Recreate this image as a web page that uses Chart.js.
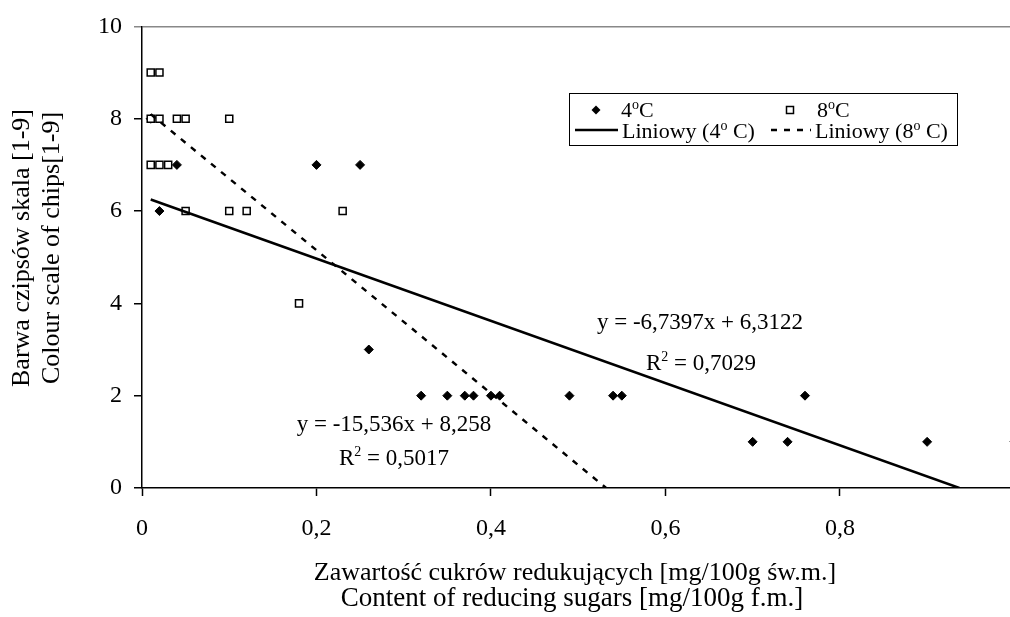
<!DOCTYPE html>
<html>
<head>
<meta charset="utf-8">
<script src="https://cdn.jsdelivr.net/npm/chart.js@4.4.0/dist/chart.umd.min.js"></script>
<style>
  html, body { margin: 0; padding: 0; background: #fff; overflow: hidden; }
  #scatterChart { display: block; }
</style>
</head>
<body>
<canvas id="scatterChart" width="1010" height="617"></canvas>
<script>
const FONT = '"Liberation Serif", "Times New Roman", serif';

// 4 oC
const x4 = [0.01, 0.02, 0.04, 0.20, 0.25, 0.26, 0.32, 0.35, 0.37, 0.38, 0.40, 0.41, 0.49, 0.54, 0.55, 0.70, 0.74, 0.76, 0.90, 1.00];
const y4 = [8, 6, 7, 7, 7, 3, 2, 2, 2, 2, 2, 2, 2, 2, 2, 1, 1, 2, 1, 1];
// 8 oC
const x8 = [0.01, 0.02, 0.01, 0.02, 0.04, 0.05, 0.10, 0.01, 0.02, 0.03, 0.05, 0.10, 0.12, 0.23, 0.18];
const y8 = [9, 9, 8, 8, 8, 8, 8, 7, 7, 7, 6, 6, 6, 6, 4];
// linie trendu (końce)
const trend4X = [0.01, 0.937];
const trend4Y = [6.25, 0];
const trend8X = [0.01, 0.532];
const trend8Y = [8.10, 0];

const xTicks = [0, 0.2, 0.4, 0.6, 0.8];
const yTicks = [0, 2, 4, 6, 8, 10];

const eq4 = ["y = -6,7397x + 6,3122", "0,7029"];
const eq8 = ["y = -15,536x + 8,258", "0,5017"];
const yTitle = ["Barwa czipsów skala [1-9]", "Colour scale of chips[1-9]"];
const xTitle = ["Zawartość cukrów redukujących [mg/100g św.m.]", "Content of reducing sugars [mg/100g f.m.]"];

const toPoints = (xs, ys) => xs.map((x, i) => ({ x: x, y: ys[i] }));

// tekst z indeksem górnym: parts = [[tekst, czySup], ...]
function drawRich(ctx, parts, x, y, size, align) {
  const supSize = Math.round(size * 0.62);
  let total = 0;
  parts.forEach(([t, sup]) => {
    ctx.font = (sup ? supSize : size) + "px " + FONT;
    total += ctx.measureText(t).width;
  });
  let cx = align === "center" ? x - total / 2 : x;
  ctx.textAlign = "left";
  ctx.textBaseline = "alphabetic";
  parts.forEach(([t, sup]) => {
    ctx.font = (sup ? supSize : size) + "px " + FONT;
    ctx.fillText(t, cx, sup ? y - size * 0.38 : y);
    cx += ctx.measureText(t).width;
  });
}

const overlayPlugin = {
  id: "overlay",
  afterDraw(chart) {
    const ctx = chart.ctx;
    ctx.save();
    ctx.fillStyle = "#000";
    ctx.strokeStyle = "#000";

    // tytuł osi Y
    ctx.save();
    ctx.translate(0, 248);
    ctx.rotate(-Math.PI / 2);
    ctx.font = "26px " + FONT;
    ctx.textAlign = "center";
    ctx.textBaseline = "middle";
    ctx.fillText(yTitle[0], 0, 22);
    ctx.fillText(yTitle[1], 0, 52);
    ctx.restore();

    // tytuł osi X
    ctx.textAlign = "center";
    ctx.textBaseline = "alphabetic";
    ctx.font = "26px " + FONT;
    ctx.fillText(xTitle[0], 575, 580);
    ctx.font = "27px " + FONT;
    ctx.fillText(xTitle[1], 572, 606);

    // równania
    drawRich(ctx, [[eq4[0], false]], 700, 329, 23, "center");
    drawRich(ctx, [["R", false], ["2", true], [" = " + eq4[1], false]], 701, 370, 23, "center");
    drawRich(ctx, [[eq8[0], false]], 394, 431, 23, "center");
    drawRich(ctx, [["R", false], ["2", true], [" = " + eq8[1], false]], 394, 465, 23, "center");

    // legenda
    ctx.lineWidth = 1;
    ctx.strokeRect(569.5, 93.5, 388, 52);

    ctx.beginPath();
    ctx.moveTo(596, 105.5); ctx.lineTo(600.5, 110); ctx.lineTo(596, 114.5); ctx.lineTo(591.5, 110);
    ctx.closePath();
    ctx.fill();
    drawRich(ctx, [["4", false], ["o", true], ["C", false]], 621, 117, 22, "left");

    ctx.fillStyle = "#fff";
    ctx.lineWidth = 1.5;
    ctx.fillRect(786.5, 106.5, 7, 7);
    ctx.strokeRect(786.5, 106.5, 7, 7);
    ctx.fillStyle = "#000";
    drawRich(ctx, [["8", false], ["o", true], ["C", false]], 817, 117, 22, "left");

    ctx.lineWidth = 2.5;
    ctx.beginPath();
    ctx.moveTo(575, 130); ctx.lineTo(618, 130);
    ctx.stroke();
    drawRich(ctx, [["Liniowy (4", false], ["o", true], [" C)", false]], 622, 138, 22, "left");

    ctx.setLineDash([6, 7]);
    ctx.beginPath();
    ctx.moveTo(771, 130); ctx.lineTo(811, 130);
    ctx.stroke();
    ctx.setLineDash([]);
    drawRich(ctx, [["Liniowy (8", false], ["o", true], [" C)", false]], 815, 138, 22, "left");

    ctx.restore();
  }
};

const ctx = document.getElementById("scatterChart").getContext("2d");

new Chart(ctx, {
  type: "scatter",
  data: {
    datasets: [
      {
        label: "Liniowy (4o C)",
        data: toPoints(trend4X, trend4Y),
        showLine: true,
        borderColor: "#000",
        borderWidth: 2.5,
        pointRadius: 0,
      },
      {
        label: "Liniowy (8o C)",
        data: toPoints(trend8X, trend8Y),
        showLine: true,
        borderColor: "#000",
        borderWidth: 2.5,
        borderDash: [6, 7],
        pointRadius: 0,
      },
      {
        label: "8oC",
        data: toPoints(x8, y8),
        pointStyle: "rect",
        pointRadius: 5,
        pointBorderWidth: 1.5,
        pointBackgroundColor: "#fff",
        pointBorderColor: "#000",
      },
      {
        label: "4oC",
        data: toPoints(x4, y4),
        pointStyle: "rectRot",
        pointRadius: 4.5,
        pointBorderWidth: 1,
        pointBackgroundColor: "#000",
        pointBorderColor: "#000",
      },
    ],
  },
  options: {
    responsive: false,
    animation: false,
    layout: { autoPadding: false, padding: { top: 25, right: 0, left: 0, bottom: 0 } },
    plugins: {
      legend: { display: false },
      tooltip: { enabled: false },
    },
    scales: {
      x: {
        type: "linear",
        min: 0,
        max: 0.995,
        afterBuildTicks: (s) => { s.ticks = xTicks.map((v) => ({ value: v })); },
        afterFit: (s) => { s.height = 129; s.paddingRight = 0; },
        border: { color: "#000", width: 1.5 },
        grid: { drawOnChartArea: false, tickLength: 8, tickColor: "#000", tickWidth: 1.5 },
        ticks: {
          color: "#000",
          padding: 18,
          font: { family: FONT, size: 24 },
          callback: (v) => String(v).replace(".", ","),
        },
      },
      y: {
        min: 0,
        max: 10,
        afterBuildTicks: (s) => { s.ticks = yTicks.map((v) => ({ value: v })); },
        afterFit: (s) => { s.width = 142; },
        border: { color: "#000", width: 1.5 },
        grid: {
          tickLength: 8,
          lineWidth: 1.5,
          color: (c) => (c.tick && c.tick.value === 10 ? "#888" : "rgba(0,0,0,0)"),
          tickColor: (c) => (c.tick && c.tick.value === 10 ? "#888" : "#000"),
        },
        ticks: {
          color: "#000",
          padding: 12,
          font: { family: FONT, size: 24 },
        },
      },
    },
  },
  plugins: [overlayPlugin],
});
</script>
</body>
</html>
